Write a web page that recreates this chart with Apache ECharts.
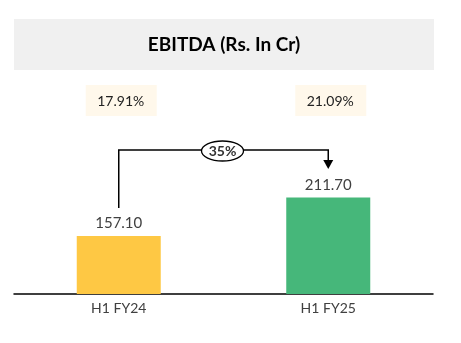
<!DOCTYPE html>
<html>
<head>
<meta charset="utf-8">
<script src="https://cdn.jsdelivr.net/npm/echarts@6/dist/echarts.min.js"></script>
<style>
  html, body { margin: 0; padding: 0; background: #fff; }
  #chart { width: 461px; height: 343px; }
</style>
</head>
<body>
<div id="chart"></div>
<script>
// EBITDA by half-year period
const categories = ['H1 FY24', 'H1 FY25'];
const ebitda = [157.10, 211.70];
const marginLabels = ['17.91%', '21.09%'];
const growthLabel = '35%';
const barColors = ['#FEC844', '#46B77A'];

const FONT = 'Lato, "Open Sans", sans-serif';
const chart = echarts.init(document.getElementById('chart'));

chart.setOption({
  animation: false,
  backgroundColor: '#ffffff',
  grid: { left: 14, right: 28, top: 135, bottom: 49 },
  xAxis: {
    type: 'category',
    data: categories,
    axisLine: { lineStyle: { color: '#000', width: 1.5 } },
    axisTick: { show: false },
    axisLabel: { color: '#404040', fontSize: 14, fontFamily: FONT, margin: 7 }
  },
  yAxis: {
    type: 'value', min: 75, max: 300,
    show: false, splitLine: { show: false }
  },
  series: [{
    type: 'bar',
    barWidth: 84,
    data: ebitda.map((v, i) => ({ value: v, itemStyle: { color: barColors[i] } })),
    label: {
      show: true, position: 'top', distance: 5,
      color: '#404040', fontSize: 15, fontFamily: FONT,
      formatter: p => p.value.toFixed(2)
    }
  }]
});

// Annotations placed from the axis scales
const px = categories.map((c, i) => chart.convertToPixel({ seriesIndex: 0 }, [i, ebitda[i]]));
const x0 = px[0][0], x1 = px[1][0];
const lineY = 150;
const graphics = [
  { type: 'rect', shape: { x: 14, y: 19, width: 420, height: 51 }, style: { fill: '#F0F0F0' } },
  { type: 'text', x: 224, y: 45, style: { text: 'EBITDA (Rs. In Cr)', fill: '#000', font: 'bold 19px ' + FONT, align: 'center', verticalAlign: 'middle' } }
];
marginLabels.forEach((m, i) => {
  const cx = px[i][0] + 2;
  graphics.push({ type: 'rect', shape: { x: cx - 35, y: 85, width: 71, height: 31 }, style: { fill: '#FFF8EB' } });
  graphics.push({ type: 'text', x: cx, y: 101, style: { text: m, fill: '#222', font: '14px ' + FONT, align: 'center', verticalAlign: 'middle' } });
});
// connector from first bar label up, across, and down to second bar label
graphics.push({
  type: 'polyline',
  shape: { points: [[x0, px[0][1] - 28], [x0, lineY], [x1, lineY], [x1, lineY + 11]] },
  style: { stroke: '#000', lineWidth: 1.5, fill: null }
});
graphics.push({
  type: 'polygon',
  shape: { points: [[x1 - 5, lineY + 10], [x1 + 5, lineY + 10], [x1, lineY + 19]] },
  style: { fill: '#000' }
});
const ex = (x0 + x1) / 2 - 1;
graphics.push({ type: 'ellipse', shape: { cx: ex, cy: lineY + 1, rx: 21, ry: 10 }, style: { fill: '#fff', stroke: '#000', lineWidth: 1.3 } });
graphics.push({ type: 'text', x: ex, y: lineY + 1, style: { text: growthLabel, fill: '#333', font: 'bold 14px ' + FONT, align: 'center', verticalAlign: 'middle' } });

chart.setOption({ graphic: graphics });
</script>
</body>
</html>
